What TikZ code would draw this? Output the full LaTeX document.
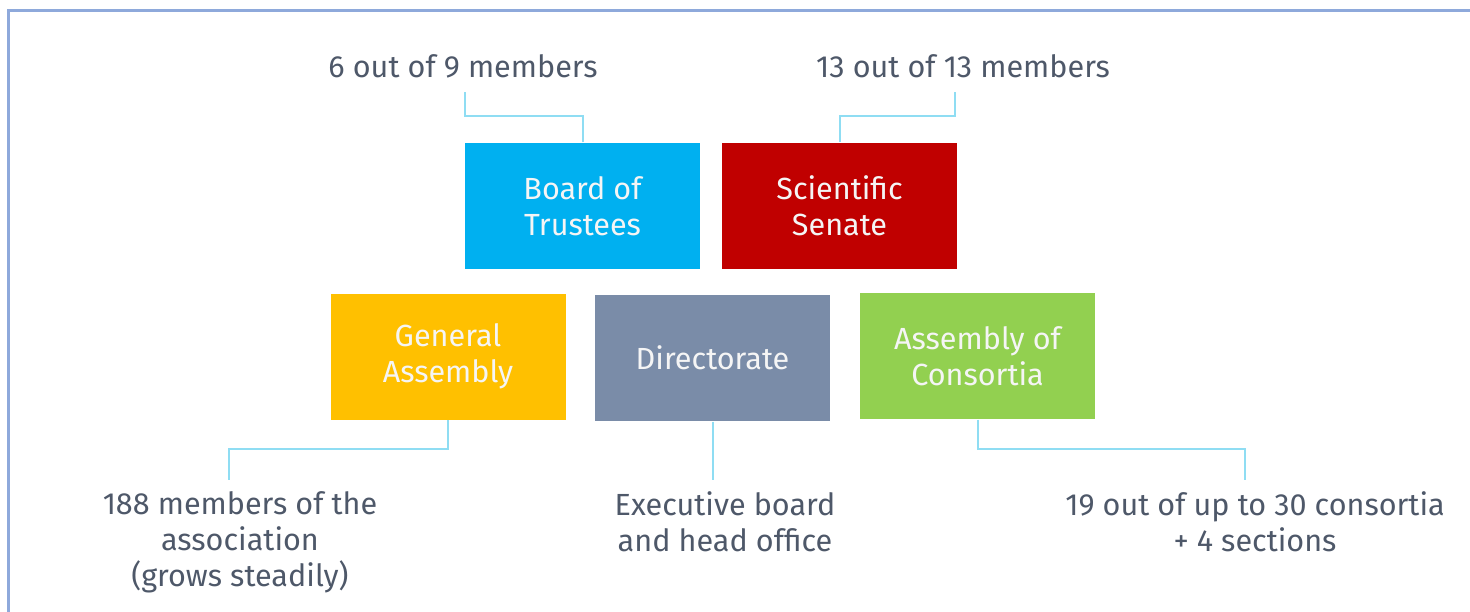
\documentclass[tikz,border=0pt]{standalone}
\usepackage{fontspec}
\setmainfont{Fira Sans}
\usepackage{tikz}
\usepackage{xcolor}
\usetikzlibrary{positioning}

\definecolor{trusteesblue}{HTML}{00B0F0}
\definecolor{senatered}{HTML}{C00000}
\definecolor{assemblyyellow}{HTML}{FFC000}
\definecolor{directorategray}{HTML}{7A8CA8}
\definecolor{consortiagreen}{HTML}{92D050}
\definecolor{linkblue}{HTML}{8FDDF3}
\definecolor{framecolor}{HTML}{8EA9DB}
\definecolor{labelgray}{HTML}{4E5869}

\begin{document}
\begin{tikzpicture}[
	organ/.style={minimum width=2.35cm, minimum height=1.26cm, inner sep=0pt, align=center,
		text=white!92!gray, font=\fontsize{8.7}{10.3}\selectfont},
	label/.style={align=center, text=labelgray, font=\fontsize{8.7}{10.3}\selectfont},
	link/.style={linkblue, line width=0.2mm}
	]
				\useasboundingbox (0,0) rectangle (14.7,-6.11);
				% Frame
				\draw[framecolor, line width=0.3mm] (0.09,-7) -- (0.09,-0.10) -- (15,-0.10);
				% Upper row
				\node[organ, fill=trusteesblue] (trustees) at (5.825,-2.06) {Board of\\Trustees};
				\node[organ, fill=senatered] (senate) at (8.395,-2.055) {Scientific\\Senate};
				% Lower row
				\node[organ, fill=assemblyyellow] (general) at (4.48,-3.565) {General\\Assembly};
				\node[organ, fill=directorategray] (directorate) at (7.125,-3.58) {Directorate};
				\node[organ, fill=consortiagreen] (consortia) at (9.775,-3.56) {Assembly of\\Consortia};
				% Labels
				\node[label] (trusteeslabel) at (4.63,-0.66) {6 out of 9 members};
				\node[label] (senatelabel) at (9.63,-0.66) {13 out of 13 members};
				\node[label, anchor=north] (generallabel) at (2.40,-4.79) {188 members of the\\association\\(grows steadily)};
				\node[label, anchor=north] (directoratelabel) at (7.25,-4.79) {Executive board\\and head office};
				\node[label, anchor=north] (consortialabel) at (12.55,-4.79) {19 out of up to 30 consortia\\+ 4 sections};
				\coordinate []  (T0) at (4.65,-0.92)  ;
				\coordinate []  (T1) at (4.65,-1.16)  ;
				\coordinate []  (S0) at (9.55,-0.92)  ;
				\coordinate []  (S1) at (9.55,-1.16)  ;
				\coordinate []  (G0) at (2.29,-4.80)  ;
				\coordinate []  (G1) at (2.29,-4.49)  ;
				\coordinate []  (D0) at (7.125,-4.80)  ;
				\coordinate []  (C0) at (12.45,-4.80)  ;
				\coordinate []  (C1) at (12.45,-4.49)  ;
				% Connectors
				\draw[link] (trustees.north) |- (T1) -- (T0);
				\draw[link] (senate.north) |- (S1) -- (S0);
				\draw[link] (general.south) |- (G1) -- (G0);
				\draw[link] (directorate.south) -- (D0);
				\draw[link] (consortia.south) |- (C1) -- (C0);
			\end{tikzpicture}
\end{document}
